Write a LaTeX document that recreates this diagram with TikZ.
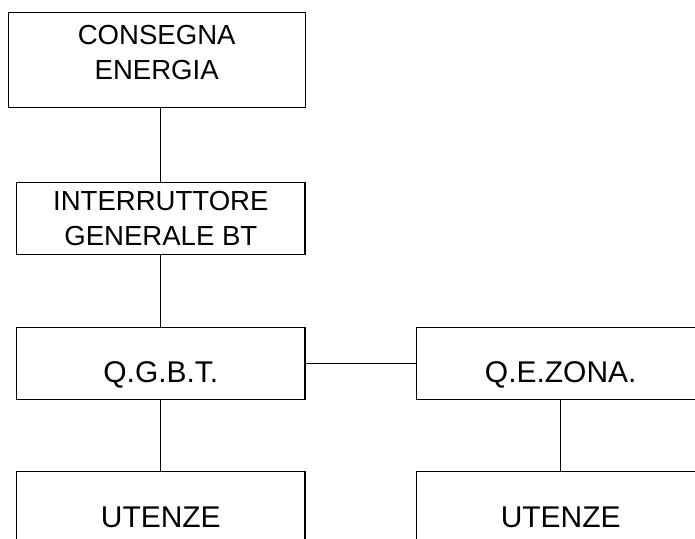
\documentclass[tikz,border=0pt]{standalone}
\usepackage{fontspec}
\setmainfont{Liberation Sans}
\usepackage{tikz}

\begin{document}
\begin{tikzpicture}[x=0.025cm,y=-0.025cm,line width=0.8pt,
		quadro/.style={draw,inner sep=0pt,align=center,minimum width=7.21cm,minimum height=1.8cm},
		piccolo/.style={font=\fontsize{19.6pt}{24.9pt}\selectfont},
		grande/.style={font=\fontsize{21.3pt}{26pt}\selectfont}]
		\useasboundingbox (0,0) rectangle (695,538);
		\clip (0,0) rectangle (695,538);
		%\draw[step=50,gray,very thin] (0,0) grid (695,538);
		
		\node[quadro,piccolo,minimum width=7.42cm,minimum height=2.38cm,text depth=0.4cm] (cons) at (156.7,60.3) {CONSEGNA\\ENERGIA};
		\node[quadro,piccolo] (intr) at (160.8,218.8) {INTERRUTTORE\\GENERALE BT};
		\node[quadro,grande,text height=0.98cm,text depth=0pt] (qgbt) at (160.8,363.2) {Q.G.B.T.};
		\node[quadro,grande,text height=0.98cm,text depth=0pt] (qez) at (560.7,363.2) {Q.E.ZONA.};
		\node[quadro,grande,text height=0.98cm,text depth=0pt] (ut1) at (160.8,507.7) {UTENZE};
		\node[quadro,grande,text height=0.98cm,text depth=0pt] (ut2) at (560.7,507.7) {UTENZE};
		
		\draw (intr.north |- cons.south) -- (intr.north);
		\draw (intr.south) -- (qgbt.north);
		\draw (qgbt.east) -- (qez.west);
		\draw (qgbt.south) -- (ut1.north);
		\draw (qez.south) -- (ut2.north);
		%\draw (qez.east) -- (695,363);
\end{tikzpicture}
\end{document}
